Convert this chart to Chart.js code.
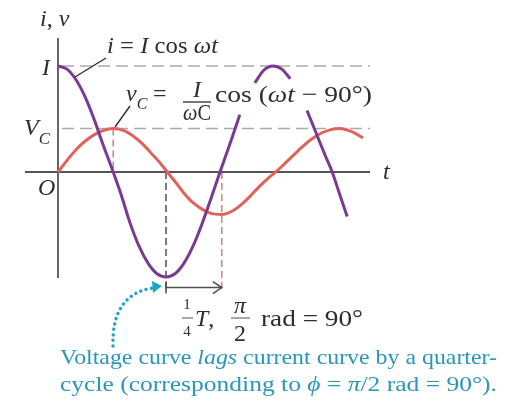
<!DOCTYPE html>
<html>
<head>
<meta charset="utf-8">
<script src="https://cdn.jsdelivr.net/npm/chart.js@4.4.1/dist/chart.umd.min.js"></script>
<style>
  body { margin: 0; background: #fff; }
  canvas { display: block; }
</style>
</head>
<body>
<canvas id="phaseChart" width="510" height="404"></canvas>
<script>
// phase t in degrees, values in units of the current amplitude I
var currentT = [0, 15, 30, 45, 60, 75, 92, 105, 120, 135, 150, 165, 180, 195, 210, 225, 240, 255, 270, 285, 303,
                315, 328, 343, 358, 373, 387, 400, 415, 430, 445, 457, 470, 482];
var currentI = [1.00, 0.97, 0.87, 0.71, 0.50, 0.26, 0, -0.21, -0.48, -0.70, -0.86, -0.96, -0.99, -0.96, -0.86, -0.70, -0.49, -0.25, 0, 0.24, 0.54,
                null, 0.84, 0.96, 1.00, 0.97, 0.88, null, 0.58, 0.37, 0.16, 0, -0.22, -0.42];

var voltageT = [0, 15, 30, 45, 60, 75, 92, 110, 125, 140, 155, 168, 182, 195, 210, 225, 240, 255, 273, 290, 305,
                320, 335, 350, 363, 380, 400, 420, 440, 455, 470, 485, 497, 508];
var voltageV = [0, 0.11, 0.21, 0.29, 0.35, 0.39, 0.41, 0.39, 0.34, 0.27, 0.18, 0.10, 0, -0.09, -0.20, -0.29, -0.35, -0.39, -0.40, -0.37, -0.31,
                -0.23, -0.14, -0.06, 0, 0.09, 0.20, 0.30, 0.37, 0.40, 0.41, 0.39, 0.36, 0.32];

var levelI = 1.0;
var levelVC = 0.41;
var tVoltagePeak = 92;
var tCurrentMin = 180;
var tVoltageMin = 273;

var ink = '#2e2e2e';
var purple = '#7a3a94';
var red = '#e0625a';
var blue = '#2a96b9';
var face = '"Liberation Serif", "Times New Roman", serif';

function toPoints(xs, ys) {
  return xs.map(function (x, k) { return { x: x, y: ys[k] }; });
}

function fnt(r) {
  return (r.i ? 'italic ' : '') + (r.z || 24) + 'px ' + face;
}

// draws a row of text pieces one after another, squeezed to a width if given
function runs(ctx, x, y, list, width) {
  var total = 0;
  list.forEach(function (r) { ctx.font = fnt(r); r.w = ctx.measureText(r.s).width; total += r.w; });
  var sx = width ? width / total : 1;
  ctx.save();
  ctx.translate(x, y);
  ctx.scale(sx, 1);
  var cx = 0;
  list.forEach(function (r) {
    ctx.font = fnt(r);
    ctx.fillText(r.s, cx, r.dy || 0);
    cx += r.w;
  });
  ctx.restore();
}

function centered(ctx, s, x, y, r) {
  ctx.font = fnt(r || {});
  ctx.textAlign = 'center';
  ctx.fillText(s, x, y);
  ctx.textAlign = 'left';
}

function line(ctx, x1, y1, x2, y2) {
  ctx.beginPath(); ctx.moveTo(x1, y1); ctx.lineTo(x2, y2); ctx.stroke();
}

var sketch = {
  id: 'sketch',
  beforeDatasetsDraw: function (chart) {
    var ctx = chart.ctx, a = chart.chartArea;
    var px = function (v) { return chart.scales.x.getPixelForValue(v); };
    var py = function (v) { return chart.scales.y.getPixelForValue(v); };
    ctx.save();

    // amplitude levels
    ctx.strokeStyle = '#ababab';
    ctx.lineWidth = 1.5;
    ctx.setLineDash([12, 6]);
    line(ctx, px(0) + 4, py(levelI), a.right, py(levelI));
    line(ctx, px(0) + 4, py(levelVC), a.right, py(levelVC));

    // drop lines at the peak and the two minima
    ctx.setLineDash([7, 4]);
    ctx.lineWidth = 1.4;
    ctx.strokeStyle = '#d07b70';
    line(ctx, px(tVoltagePeak), py(levelVC), px(tVoltagePeak), py(0));
    line(ctx, px(tVoltageMin), py(0), px(tVoltageMin), py(-1.1));
    ctx.strokeStyle = '#4a3d57';
    line(ctx, px(tCurrentMin), py(0), px(tCurrentMin), py(-1.1));

    // axes
    ctx.setLineDash([]);
    ctx.strokeStyle = '#555';
    ctx.lineWidth = 1.8;
    line(ctx, px(0), a.top, px(0), a.bottom);
    line(ctx, a.left, py(0), a.right, py(0));
    ctx.restore();
  },
  afterDatasetsDraw: function (chart) {
    var ctx = chart.ctx;
    var px = function (v) { return chart.scales.x.getPixelForValue(v); };
    var py = function (v) { return chart.scales.y.getPixelForValue(v); };
    ctx.save();
    ctx.fillStyle = ink;
    ctx.strokeStyle = ink;

    // axis letters
    runs(ctx, 40, 26, [{ s: 'i', i: 1 }, { s: ', ' }, { s: 'v', i: 1 }]);
    runs(ctx, 42, 75, [{ s: 'I', i: 1 }]);
    runs(ctx, 24, 135, [{ s: 'V', i: 1 }, { s: 'C', i: 1, z: 17, dy: 9 }]);
    runs(ctx, 38, 195, [{ s: 'O', i: 1 }]);
    runs(ctx, 383, 179, [{ s: 't', i: 1 }]);

    // current label and leader
    runs(ctx, 107, 53, [{ s: 'i', i: 1 }, { s: ' = ' }, { s: 'I', i: 1 }, { s: ' cos ' }, { s: 'ωt', i: 1 }], 111);
    ctx.lineWidth = 1.4;
    line(ctx, 106, 58, 75, 77);

    // voltage label and leader
    runs(ctx, 126, 101, [{ s: 'v', i: 1 }, { s: 'C', i: 1, z: 16, dy: 8 }]);
    runs(ctx, 153, 101, [{ s: '=' }]);
    centered(ctx, 'I', 197, 97, { i: 1 });
    ctx.lineWidth = 1.3;
    line(ctx, 183, 102, 211, 102);
    runs(ctx, 183, 120, [{ s: 'ω', i: 1, z: 23 }, { s: 'C', z: 23 }], 28);
    runs(ctx, 215, 102, [{ s: 'cos (' }, { s: 'ωt', i: 1 }, { s: ' − 90°)' }], 157);
    ctx.lineWidth = 1.4;
    line(ctx, 130, 106, 115, 127);

    // quarter-period arrow
    var yA = py(-1.09), x0 = px(tCurrentMin), x1 = px(tVoltageMin);
    ctx.strokeStyle = '#505050';
    ctx.lineWidth = 1.6;
    line(ctx, x0, yA - 6, x0, yA + 6);
    line(ctx, x0, yA, x1, yA);
    ctx.beginPath();
    ctx.moveTo(x1 - 9, yA - 6); ctx.lineTo(x1, yA); ctx.lineTo(x1 - 9, yA + 6);
    ctx.stroke();

    // 1/4 T, pi/2 rad = 90 deg
    centered(ctx, '1', 187, 309, { z: 15 });
    centered(ctx, '4', 187, 336, { z: 15 });
    ctx.lineWidth = 1;
    line(ctx, 182, 318, 193, 318);
    runs(ctx, 195, 326, [{ s: 'T', i: 1 }, { s: ',' }]);
    centered(ctx, 'π', 240, 313, { i: 1 });
    centered(ctx, '2', 240, 341, {});
    line(ctx, 231, 318, 250, 318);
    runs(ctx, 261, 326, [{ s: 'rad = 90°' }], 102);

    // caption
    ctx.fillStyle = blue;
    runs(ctx, 60, 364, [{ s: 'Voltage curve ', z: 22 }, { s: 'lags', i: 1, z: 22 }, { s: ' current curve by a quarter-', z: 22 }], 437);
    runs(ctx, 60, 391, [{ s: 'cycle (corresponding to ', z: 22 }, { s: 'ϕ', i: 1, z: 22 }, { s: ' = ', z: 22 },
                        { s: 'π', i: 1, z: 22 }, { s: '/2 rad = 90°).', z: 22 }], 437);

    // dotted pointer to the current minimum
    ctx.strokeStyle = '#1ea4c9';
    ctx.fillStyle = '#1ea4c9';
    ctx.lineWidth = 3.4;
    ctx.lineCap = 'round';
    ctx.setLineDash([0.1, 5.4]);
    ctx.beginPath();
    ctx.moveTo(113, 346);
    ctx.bezierCurveTo(112, 312, 125, 292, 153, 288);
    ctx.stroke();
    ctx.setLineDash([]);
    ctx.beginPath();
    ctx.moveTo(162, 286); ctx.lineTo(152, 281); ctx.lineTo(153, 293);
    ctx.closePath();
    ctx.fill();
    ctx.restore();
  }
};

function draw() {
  new Chart(document.getElementById('phaseChart'), {
    type: 'line',
    data: {
      datasets: [
        {
          label: 'i',
          data: toPoints(currentT, currentI),
          borderColor: purple,
          borderWidth: 3,
          pointRadius: 0,
          cubicInterpolationMode: 'monotone',
          spanGaps: false,
          fill: false,
          clip: false
        },
        {
          label: 'vC',
          data: toPoints(voltageT, voltageV),
          borderColor: red,
          borderWidth: 3,
          pointRadius: 0,
          cubicInterpolationMode: 'monotone',
          fill: false,
          clip: false
        }
      ]
    },
    options: {
      responsive: false,
      animation: false,
      events: [],
      layout: { padding: { left: 25, right: 140, top: 38, bottom: 126 } },
      plugins: { legend: { display: false }, tooltip: { enabled: false } },
      scales: {
        x: { type: 'linear', min: -55, max: 520, display: false },
        y: { type: 'linear', min: -1.0, max: 1.264, display: false }
      }
    },
    plugins: [sketch]
  });
}

if (document.fonts && document.fonts.load) {
  Promise.all([
    document.fonts.load('24px "Liberation Serif"'),
    document.fonts.load('italic 24px "Liberation Serif"')
  ]).then(draw, draw);
} else {
  draw();
}
</script>
</body>
</html>
